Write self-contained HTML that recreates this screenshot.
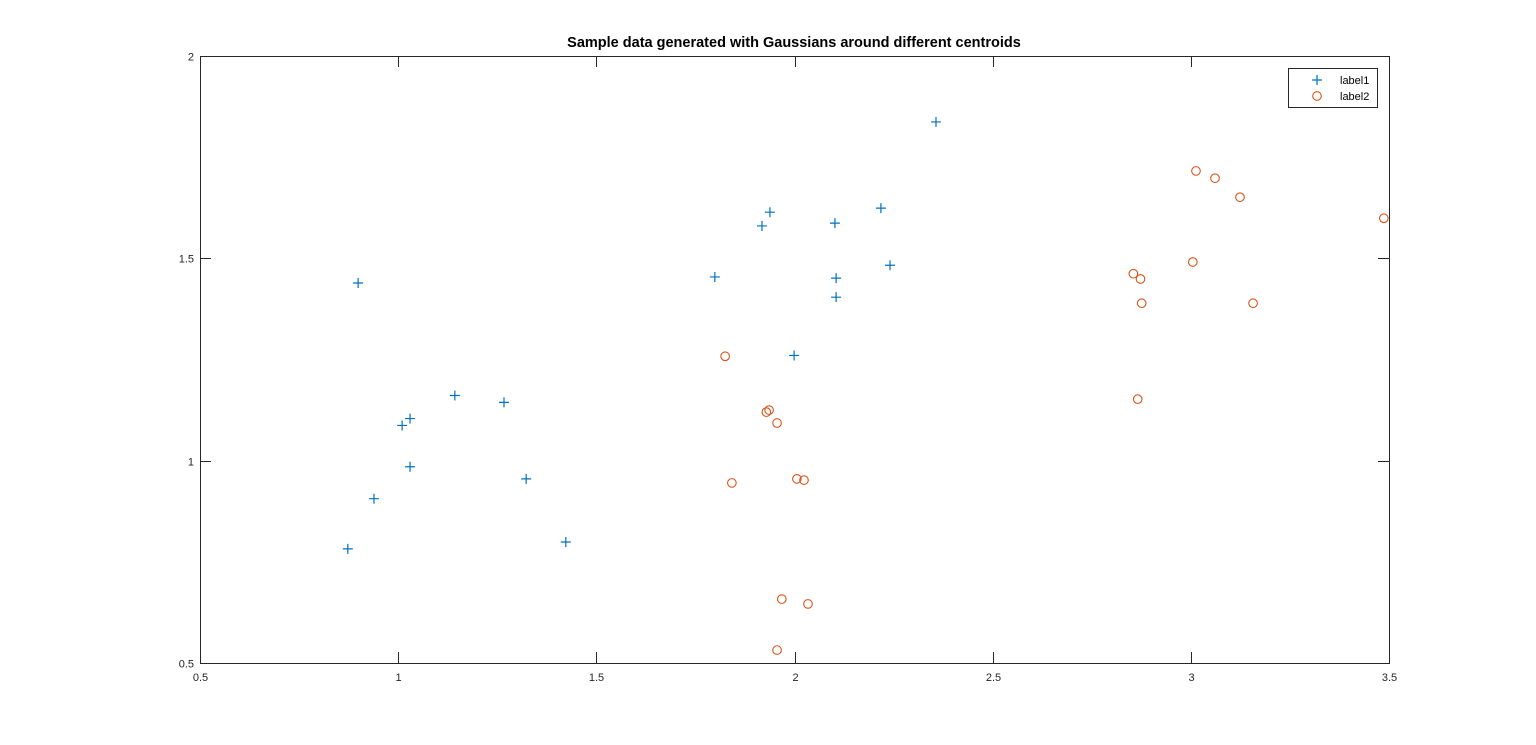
<!DOCTYPE html>
<html><head><meta charset="utf-8"><style>
html,body{margin:0;padding:0;background:#fff;}
svg{display:block;font-family:"Liberation Sans",Arial,sans-serif;}
</style></head><body>
<svg id="chart" width="1536" height="745" viewBox="0 0 1536 745">
<rect x="0" y="0" width="1536" height="745" fill="#ffffff"/>
<text x="794" y="47" text-anchor="middle" font-size="14.5" font-weight="bold" fill="#000">Sample data generated with Gaussians around different centroids</text>
<g id="axes"></g>
<g id="series1"></g>
<g id="series2"></g>
<g>
<rect x="1288.5" y="68.5" width="89" height="39" fill="#fff" stroke="#262626" stroke-width="1"/>
<g>
<path d="M1312 80 h10 M1317 75 v10" stroke="#0072BD" stroke-width="1.2"/>
<text x="1340" y="84" font-size="11" fill="#000">label1</text></g>
<g>
<circle cx="1317" cy="96" r="4.3" fill="none" stroke="#D95319" stroke-width="1.1"/>
<text x="1340" y="100" font-size="11" fill="#000">label2</text></g>
</g>
</svg>
<script>
const xTicks=[0.5,1,1.5,2,2.5,3,3.5];
const yTicks=[0.5,1,1.5,2];
const xTickLabels=["0.5","1","1.5","2","2.5","3","3.5"];
const yTickLabels=["0.5","1","1.5","2"];
const label1X=[0.899,2.357,1.938,1.918,1.799,2.102,2.218,2.105,2.105,2.241,1.999,1.143,1.267,1.030,1.010,1.030,1.323,0.939,0.873,1.423];
const label1Y=[1.439,1.837,1.614,1.580,1.454,1.587,1.624,1.451,1.404,1.483,1.260,1.161,1.144,1.104,1.087,0.985,0.955,0.906,0.782,0.799];
const label2X=[3.013,3.061,3.124,3.487,2.855,2.873,3.005,2.876,3.157,2.866,1.825,1.929,1.936,1.956,1.842,2.006,2.024,1.968,2.034,1.956];
const label2Y=[1.716,1.698,1.651,1.599,1.462,1.449,1.491,1.389,1.389,1.152,1.258,1.120,1.125,1.093,0.945,0.955,0.952,0.658,0.646,0.532];

const L=200,R=1389,T=56,B=663,x0=0.5,x1=3.5,y0=0.5,y1=2;
const sx=v=>L+(v-x0)/(x1-x0)*(R-L);
const sy=v=>B-(v-y0)/(y1-y0)*(B-T);
const NS="http://www.w3.org/2000/svg";
function mk(tag,attrs,parent){const e=document.createElementNS(NS,tag);for(const k in attrs)e.setAttribute(k,attrs[k]);parent.appendChild(e);return e;}
const axes=document.getElementById('axes');
const frame=mk('rect',{x:L+0.5,y:T+0.5,width:R-L,height:B-T,fill:'none',stroke:'#262626','stroke-width':1},axes);


xTicks.forEach((t,i)=>{const X=Math.round(sx(t))+0.5;
 const a=mk('path',{d:`M${X} ${B} v-11 M${X} ${T} v11`,stroke:'#262626','stroke-width':1},axes);
 
 
 const tx=mk('text',{x:X,y:B+18,'text-anchor':'middle','font-size':11,fill:'#262626'},axes);tx.textContent=xTickLabels[i];
 
 });
yTicks.forEach((t,i)=>{const Y=Math.round(sy(t))+0.5;
 const a=mk('path',{d:`M${L} ${Y} h11 M${R} ${Y} h-11`,stroke:'#262626','stroke-width':1},axes);
 
 
 const tx=mk('text',{x:L-6,y:Y+4,'text-anchor':'end','font-size':11,fill:'#262626'},axes);tx.textContent=yTickLabels[i];
 
 });
const g1=document.getElementById('series1');
label1X.forEach((v,i)=>{const X=sx(v),Y=sy(label1Y[i]);
 const p=mk('path',{d:`M${X-5} ${Y} h10 M${X} ${Y-5} v10`,stroke:'#0072BD','stroke-width':1.2},g1);
 
 });
const g2=document.getElementById('series2');
label2X.forEach((v,i)=>{const X=sx(v),Y=sy(label2Y[i]);
 const c=mk('circle',{cx:X,cy:Y,r:4.3,fill:'none',stroke:'#D95319','stroke-width':1.1},g2);
 
 });
</script>
</body></html>
